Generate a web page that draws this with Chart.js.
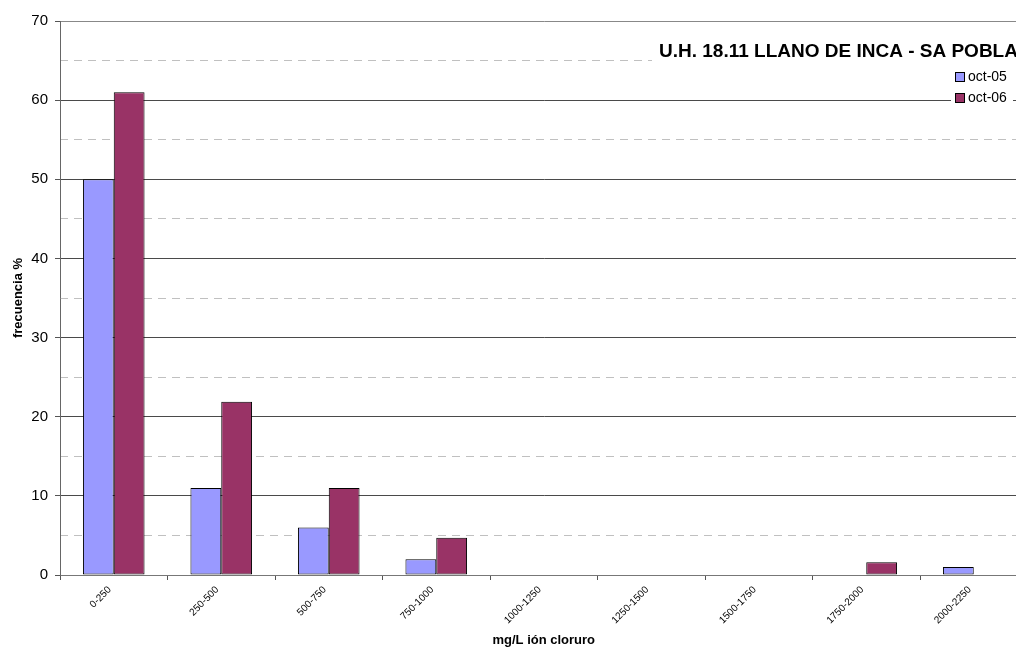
<!DOCTYPE html>
<html>
<head>
<meta charset="utf-8">
<script src="https://cdn.jsdelivr.net/npm/chart.js@4/dist/chart.umd.min.js"></script>
<style>
  html, body { margin: 0; padding: 0; overflow: hidden; background: #fff; }
  canvas { display: block; }
</style>
</head>
<body>
<canvas id="c" width="1040" height="647"></canvas>
<script>
// Chloride concentration classes (mg/L) and frequency (%) per campaign
const categories = ['0-250', '250-500', '500-750', '750-1000', '1000-1250',
                    '1250-1500', '1500-1750', '1750-2000', '2000-2250'];
const oct05 = [50, 11, 6, 2, 0, 0, 0, 0, 1];
const oct06 = [61, 21.9, 11, 4.7, 0, 0, 0, 1.6, 0];
const seriesNames = ['oct-05', 'oct-06'];
const chartTitle = 'U.H. 18.11 LLANO DE INCA - SA POBLA';
const yTitle = 'frecuencia %';
const xTitle = 'mg/L ión cloruro';

const FONT = '"Liberation Sans", Arial, Helvetica, sans-serif';
Chart.defaults.font.family = FONT;
Chart.defaults.color = '#000';

// Title box and legend drawn on top of the plot area
const overlay = {
  id: 'overlay',
  afterDraw(chart) {
    const ctx = chart.ctx;
    ctx.save();
    ctx.fillStyle = '#fff';
    ctx.fillRect(652, 39, 400, 25);
    ctx.fillStyle = '#000';
    ctx.font = 'bold 19px ' + FONT;
    ctx.textBaseline = 'alphabetic';
    ctx.textAlign = 'left';
    ctx.fillText(chartTitle, 659, 57);

    ctx.fillStyle = '#fff';
    ctx.fillRect(951, 66, 62, 42);
    ctx.font = '14px ' + FONT;
    ctx.textBaseline = 'middle';
    chart.data.datasets.forEach((ds, i) => {
      const y = 72 + i * 21;
      ctx.fillStyle = ds.backgroundColor;
      ctx.fillRect(955, y, 10, 10);
      ctx.strokeStyle = '#000';
      ctx.lineWidth = 1;
      ctx.strokeRect(955.5, y + 0.5, 9, 9);
      ctx.fillStyle = '#000';
      ctx.fillText(ds.label, 968, y + 5.5);
    });
    ctx.restore();
  }
};

new Chart(document.getElementById('c'), {
  type: 'bar',
  data: {
    labels: categories,
    datasets: [
      { label: seriesNames[0], data: oct05, backgroundColor: '#9999FF',
        borderColor: '#000', borderWidth: 1, borderSkipped: false },
      { label: seriesNames[1], data: oct06, backgroundColor: '#993366',
        borderColor: '#000', borderWidth: 1, borderSkipped: false }
    ]
  },
  options: {
    responsive: false,
    devicePixelRatio: 1,
    animation: false,
    events: [],
    layout: { padding: { top: 21, right: 12.5, bottom: 0, left: 0 } },
    datasets: { bar: { categoryPercentage: 0.573, barPercentage: 1 } },
    plugins: { legend: { display: false }, tooltip: { enabled: false } },
    scales: {
      x: {
        grid: { offset: true, drawOnChartArea: false, tickLength: 5, tickColor: '#555', color: '#555' },
        border: { color: '#777', width: 1 },
        ticks: { font: { size: 10 }, minRotation: 45, maxRotation: 45, padding: 4,
                 labelOffset: -4, color: '#000' },
        title: { display: true, text: xTitle, font: { size: 13, weight: 'bold', lineHeight: 1 },
                 padding: { top: 0, bottom: 0 }, color: '#000' },
        afterFit(scale) { scale.height = 72; }
      },
      y: {
        min: 0, max: 70,
        ticks: { stepSize: 10, font: { size: 15 }, padding: 7, color: '#000' },
        grid: {
          color: (c) => (c.tick && (c.tick.value === 0 || c.tick.value === 70)) ? '#888' : '#4a4a4a',
          tickColor: '#555', tickLength: 5, lineWidth: 1
        },
        border: { color: '#666', width: 1 },
        title: { display: true, text: yTitle, font: { size: 13, weight: 'bold', lineHeight: 1.2 },
                 padding: { top: 11, bottom: 0 }, color: '#000' },
        afterFit(scale) { scale.width = 60; }
      },
      yMinor: {
        position: 'right',
        min: 0, max: 70,
        ticks: { stepSize: 5, display: false },
        grid: {
          drawTicks: false,
          color: (c) => (c.tick && c.tick.value % 10 === 5) ? '#c0c0c0' : 'rgba(0,0,0,0)'
        },
        border: { display: false, dash: [8, 6] },
        afterFit(scale) { scale.width = 0; }
      }
    }
  },
  plugins: [overlay]
});
</script>
</body>
</html>
